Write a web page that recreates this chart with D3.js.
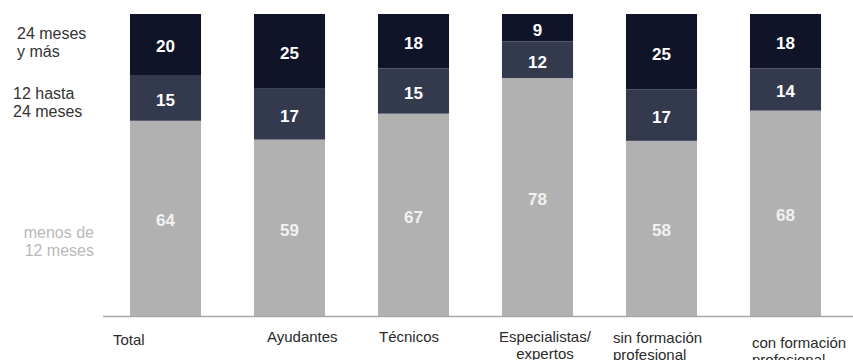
<!DOCTYPE html>
<html>
<head>
<meta charset="utf-8">
<script src="https://cdn.jsdelivr.net/npm/d3@7"></script>
<style>
  html, body { margin: 0; padding: 0; background: #ffffff; }
  svg { display: block; font-family: "Liberation Sans", Arial, sans-serif; }
</style>
</head>
<body>
<svg id="chart" width="853" height="360"></svg>
<script>
// Duration groups, bottom to top of each stacked bar
const seriesKeys = ["menos de 12 meses", "12 hasta 24 meses", "24 meses y más"];

// Groups on the x axis (label lines)
const categories = ["Total", "Ayudantes", "Técnicos", "Especialistas/expertos", "sin formación profesional", "con formación profesional"];
const categoryLines = [
  ["Total"],
  ["Ayudantes"],
  ["Técnicos"],
  ["Especialistas/", "expertos"],
  ["sin formación", "profesional"],
  ["con formación", "profesional"]
];

// Shares in percent per group
const menos12 = [64, 59, 67, 78, 58, 68];
const de12a24 = [15, 17, 15, 12, 17, 14];
const mas24   = [20, 25, 18, 9, 25, 18];

// Legend text on the left, one entry per series
const legendLines = [
  ["menos de", "12 meses"],
  ["12 hasta", "24 meses"],
  ["24 meses", "y más"]
];

const colors = ["#b1b1b1", "#333a4e", "#0f1428"];
const valueColors = ["#f2f2f2", "#ffffff", "#ffffff"];
const legendColors = ["#b9b9b9", "#333333", "#333333"];

const rows = categories.map((c, i) => ({
  cat: c,
  [seriesKeys[0]]: menos12[i],
  [seriesKeys[1]]: de12a24[i],
  [seriesKeys[2]]: mas24[i]
}));

const svg = d3.select("#chart");
const baseY = 316, topY = 14;

const x = d3.scaleBand()
  .domain(categories)
  .range([103.5, 847.5])
  .paddingInner(0.427)
  .paddingOuter(0.2135);

// Each bar fills the full height (shares normalised per group)
const y = d3.scaleLinear().domain([0, 1]).range([baseY, topY]);

const stacked = d3.stack().keys(seriesKeys).offset(d3.stackOffsetExpand)(rows);

const layers = svg.append("g").selectAll("g")
  .data(stacked)
  .join("g")
  .attr("fill", (d, i) => colors[i]);

layers.selectAll("rect")
  .data(d => d)
  .join("rect")
  .attr("x", d => x(d.data.cat))
  .attr("width", x.bandwidth())
  .attr("y", d => y(d[1]))
  .attr("height", d => y(d[0]) - y(d[1]));

// Value labels centred in each segment
stacked.forEach((layer, li) => {
  svg.append("g").selectAll("text")
    .data(layer)
    .join("text")
    .attr("x", d => x(d.data.cat) + x.bandwidth() / 2)
    .attr("y", d => (y(d[0]) + y(d[1])) / 2 + 2)
    .attr("dy", "0.35em")
    .attr("text-anchor", "middle")
    .attr("font-size", 17)
    .attr("font-weight", "bold")
    .attr("fill", valueColors[li])
    .text(d => d.data[layer.key]);
});

// Baseline
svg.append("line")
  .attr("x1", 103).attr("x2", 853)
  .attr("y1", baseY + 0.5).attr("y2", baseY + 0.5)
  .attr("stroke", "#a8a8a8")
  .attr("stroke-width", 1.5);

// Category labels under the bars: anchor, offset from the band start, first baseline
const catLayout = [
  { anchor: "start",  dx: -17, base: 345 },
  { anchor: "start",  dx: 13,  base: 342 },
  { anchor: "start",  dx: 1,   base: 342 },
  { anchor: "middle", dx: 43,  base: 342 },
  { anchor: "start",  dx: -13, base: 343 },
  { anchor: "start",  dx: 2,   base: 348 }
];
const catG = svg.append("g")
  .attr("font-size", 15)
  .attr("fill", "#2a2a2a");
categories.forEach((c, i) => {
  const L = catLayout[i];
  const t = catG.append("text")
    .attr("text-anchor", L.anchor)
    .attr("x", x(c) + L.dx)
    .attr("y", L.base);
  categoryLines[i].forEach((line, k) => {
    t.append("tspan")
      .attr("x", x(c) + L.dx)
      .attr("dy", k === 0 ? 0 : 17)
      .text(line);
  });
});

// Legend labels on the left
const legLayout = [
  { anchor: "end",   x: 94, y0: 232 },
  { anchor: "start", x: 13, y0: 93 },
  { anchor: "start", x: 17, y0: 33 }
];
legendLines.forEach((lines, i) => {
  const L = legLayout[i];
  const t = svg.append("text")
    .attr("text-anchor", L.anchor)
    .attr("font-size", 16)
    .attr("fill", legendColors[i])
    .attr("x", L.x)
    .attr("y", L.y0);
  lines.forEach((line, k) => {
    t.append("tspan")
      .attr("x", L.x)
      .attr("dy", k === 0 ? "0.35em" : "18px")
      .text(line);
  });
});
</script>
</body>
</html>
